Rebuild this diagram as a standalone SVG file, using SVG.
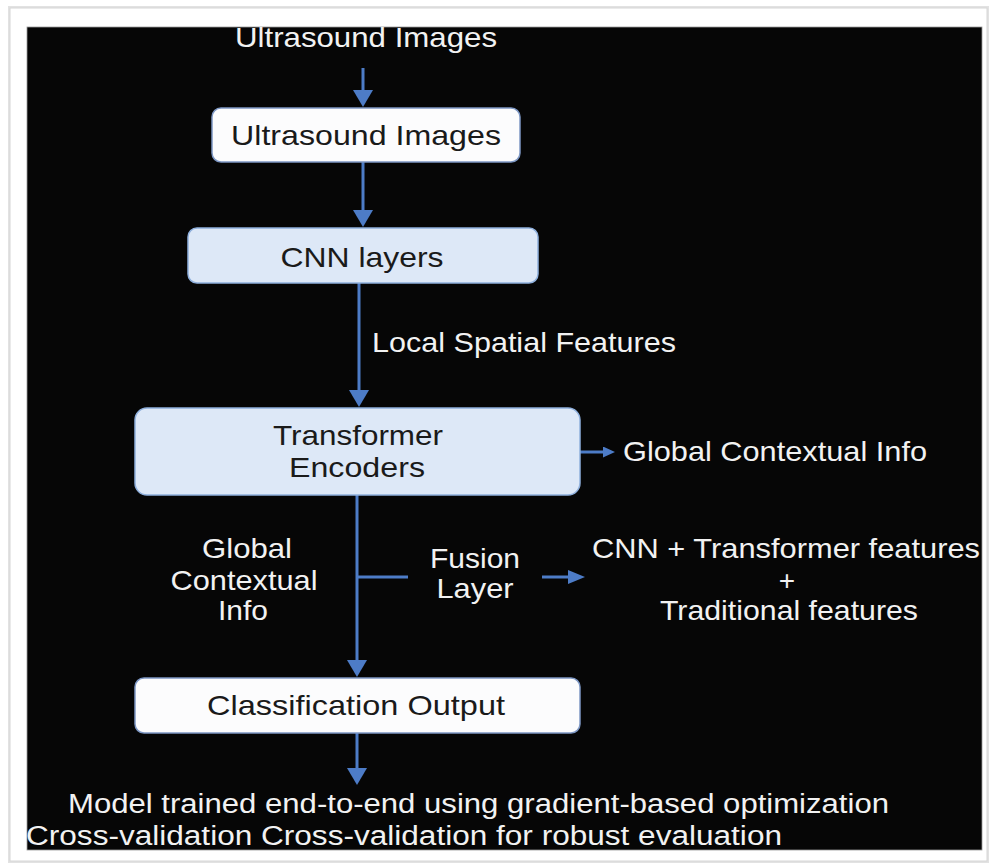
<svg xmlns="http://www.w3.org/2000/svg" width="989" height="866" viewBox="0 0 989 866">
  <defs>
    <marker id="ahL" markerUnits="userSpaceOnUse" markerWidth="18" markerHeight="20" refX="7" refY="10" orient="auto">
      <path d="M0,0 L17,10 L0,20 z" fill="#4d7cc7"/>
    </marker>
    <marker id="ahM" markerUnits="userSpaceOnUse" markerWidth="18" markerHeight="14" refX="6" refY="7" orient="auto">
      <path d="M0,0 L17,7 L0,14 z" fill="#4d7cc7"/>
    </marker>
    <marker id="ahS" markerUnits="userSpaceOnUse" markerWidth="13" markerHeight="11" refX="5" refY="5.5" orient="auto">
      <path d="M0,0 L12,5.5 L0,11 z" fill="#4d7cc7"/>
    </marker>
  </defs>
  <style>
    .t { font-family: "Liberation Sans", Arial, sans-serif; font-size: 28px; }
    .b { font-size: 27px; }
    .w { fill: #f2f2f2; }
    .d { fill: #1a1a1a; }
    .box-w { fill: #fcfcfd; stroke: #7d97c4; stroke-width: 1.5; }
    .box-b { fill: #dde8f7; stroke: #8fb0dd; stroke-width: 1.5; }
    .c { stroke: #4d7cc7; stroke-width: 3; fill: none; }
  </style>

  <!-- frame -->
  <rect x="0" y="0" width="989" height="866" fill="#ffffff"/>
  <rect x="8" y="6" width="981" height="857" fill="#e2e2e2"/>
  <rect x="10" y="8" width="977" height="853" fill="#ffffff" stroke="#d6d6d6" stroke-width="1"/>
  <rect x="27" y="27" width="955" height="823" fill="#060606" stroke="#9a9a9a" stroke-width="0.8"/>

  <!-- connectors -->
  <g id="connectors">
    <line class="c" x1="363" y1="68" x2="363" y2="97" marker-end="url(#ahL)"/>
    <line class="c" x1="363" y1="162" x2="363" y2="217" marker-end="url(#ahL)"/>
    <line class="c" x1="359" y1="283" x2="359" y2="397" marker-end="url(#ahL)"/>
    <line class="c" x1="580" y1="452" x2="608" y2="452" marker-end="url(#ahS)"/>
    <line class="c" x1="357" y1="495" x2="357" y2="667" marker-end="url(#ahL)"/>
    <line class="c" x1="357" y1="577" x2="408" y2="577"/>
    <line class="c" x1="542" y1="577" x2="574" y2="577" marker-end="url(#ahM)"/>
    <line class="c" x1="357" y1="733" x2="357" y2="775" marker-end="url(#ahL)"/>
  </g>

  <g id="label-top">
    <text class="t w" x="366" y="47" text-anchor="middle" textLength="262" lengthAdjust="spacingAndGlyphs">Ultrasound Images</text>
  </g>

  <g id="node-ultrasound">
    <rect class="box-w" x="212" y="108" width="308" height="54" rx="9"/>
    <text class="t d" x="366" y="145" text-anchor="middle" textLength="270" lengthAdjust="spacingAndGlyphs">Ultrasound Images</text>
  </g>

  <g id="node-cnn">
    <rect class="box-b" x="188" y="228" width="350" height="55" rx="9"/>
    <text class="t d" x="362" y="267" text-anchor="middle" textLength="163" lengthAdjust="spacingAndGlyphs">CNN layers</text>
  </g>

  <g id="label-local">
    <text class="t w" x="372" y="352" textLength="304" lengthAdjust="spacingAndGlyphs">Local Spatial Features</text>
  </g>

  <g id="node-transformer">
    <rect class="box-b" x="135" y="408" width="445" height="87" rx="12"/>
    <text class="t d" x="358" y="445" text-anchor="middle" textLength="170" lengthAdjust="spacingAndGlyphs">Transformer</text>
    <text class="t d" x="357" y="477" text-anchor="middle" textLength="136" lengthAdjust="spacingAndGlyphs">Encoders</text>
  </g>

  <g id="label-global-right">
    <text class="t w" x="623" y="461" textLength="304" lengthAdjust="spacingAndGlyphs">Global Contextual Info</text>
  </g>

  <g id="label-global-left">
    <text class="t w" x="247" y="558" text-anchor="middle" textLength="90" lengthAdjust="spacingAndGlyphs">Global</text>
    <text class="t w" x="244" y="590" text-anchor="middle" textLength="147" lengthAdjust="spacingAndGlyphs">Contextual</text>
    <text class="t w" x="243" y="620" text-anchor="middle" textLength="50" lengthAdjust="spacingAndGlyphs">Info</text>
  </g>

  <g id="label-fusion">
    <text class="t w" x="475" y="568" text-anchor="middle" textLength="90" lengthAdjust="spacingAndGlyphs">Fusion</text>
    <text class="t w" x="475" y="598" text-anchor="middle" textLength="77" lengthAdjust="spacingAndGlyphs">Layer</text>
  </g>

  <g id="label-features">
    <text class="t w" x="786" y="558" text-anchor="middle" textLength="388" lengthAdjust="spacingAndGlyphs">CNN + Transformer features</text>
    <text class="t w" x="787" y="590" text-anchor="middle">+</text>
    <text class="t w" x="789" y="620" text-anchor="middle" textLength="258" lengthAdjust="spacingAndGlyphs">Traditional features</text>
  </g>

  <g id="node-classification">
    <rect class="box-w" x="135" y="678" width="445" height="55" rx="9"/>
    <text class="t d" x="356" y="715" text-anchor="middle" textLength="298" lengthAdjust="spacingAndGlyphs">Classification Output</text>
  </g>

  <g id="label-bottom">
    <text class="t b w" x="68" y="813" textLength="821" lengthAdjust="spacingAndGlyphs">Model trained end-to-end using gradient-based optimization</text>
    <text class="t b w" x="26" y="845" textLength="756" lengthAdjust="spacingAndGlyphs">Cross-validation Cross-validation for robust evaluation</text>
  </g>
</svg>
